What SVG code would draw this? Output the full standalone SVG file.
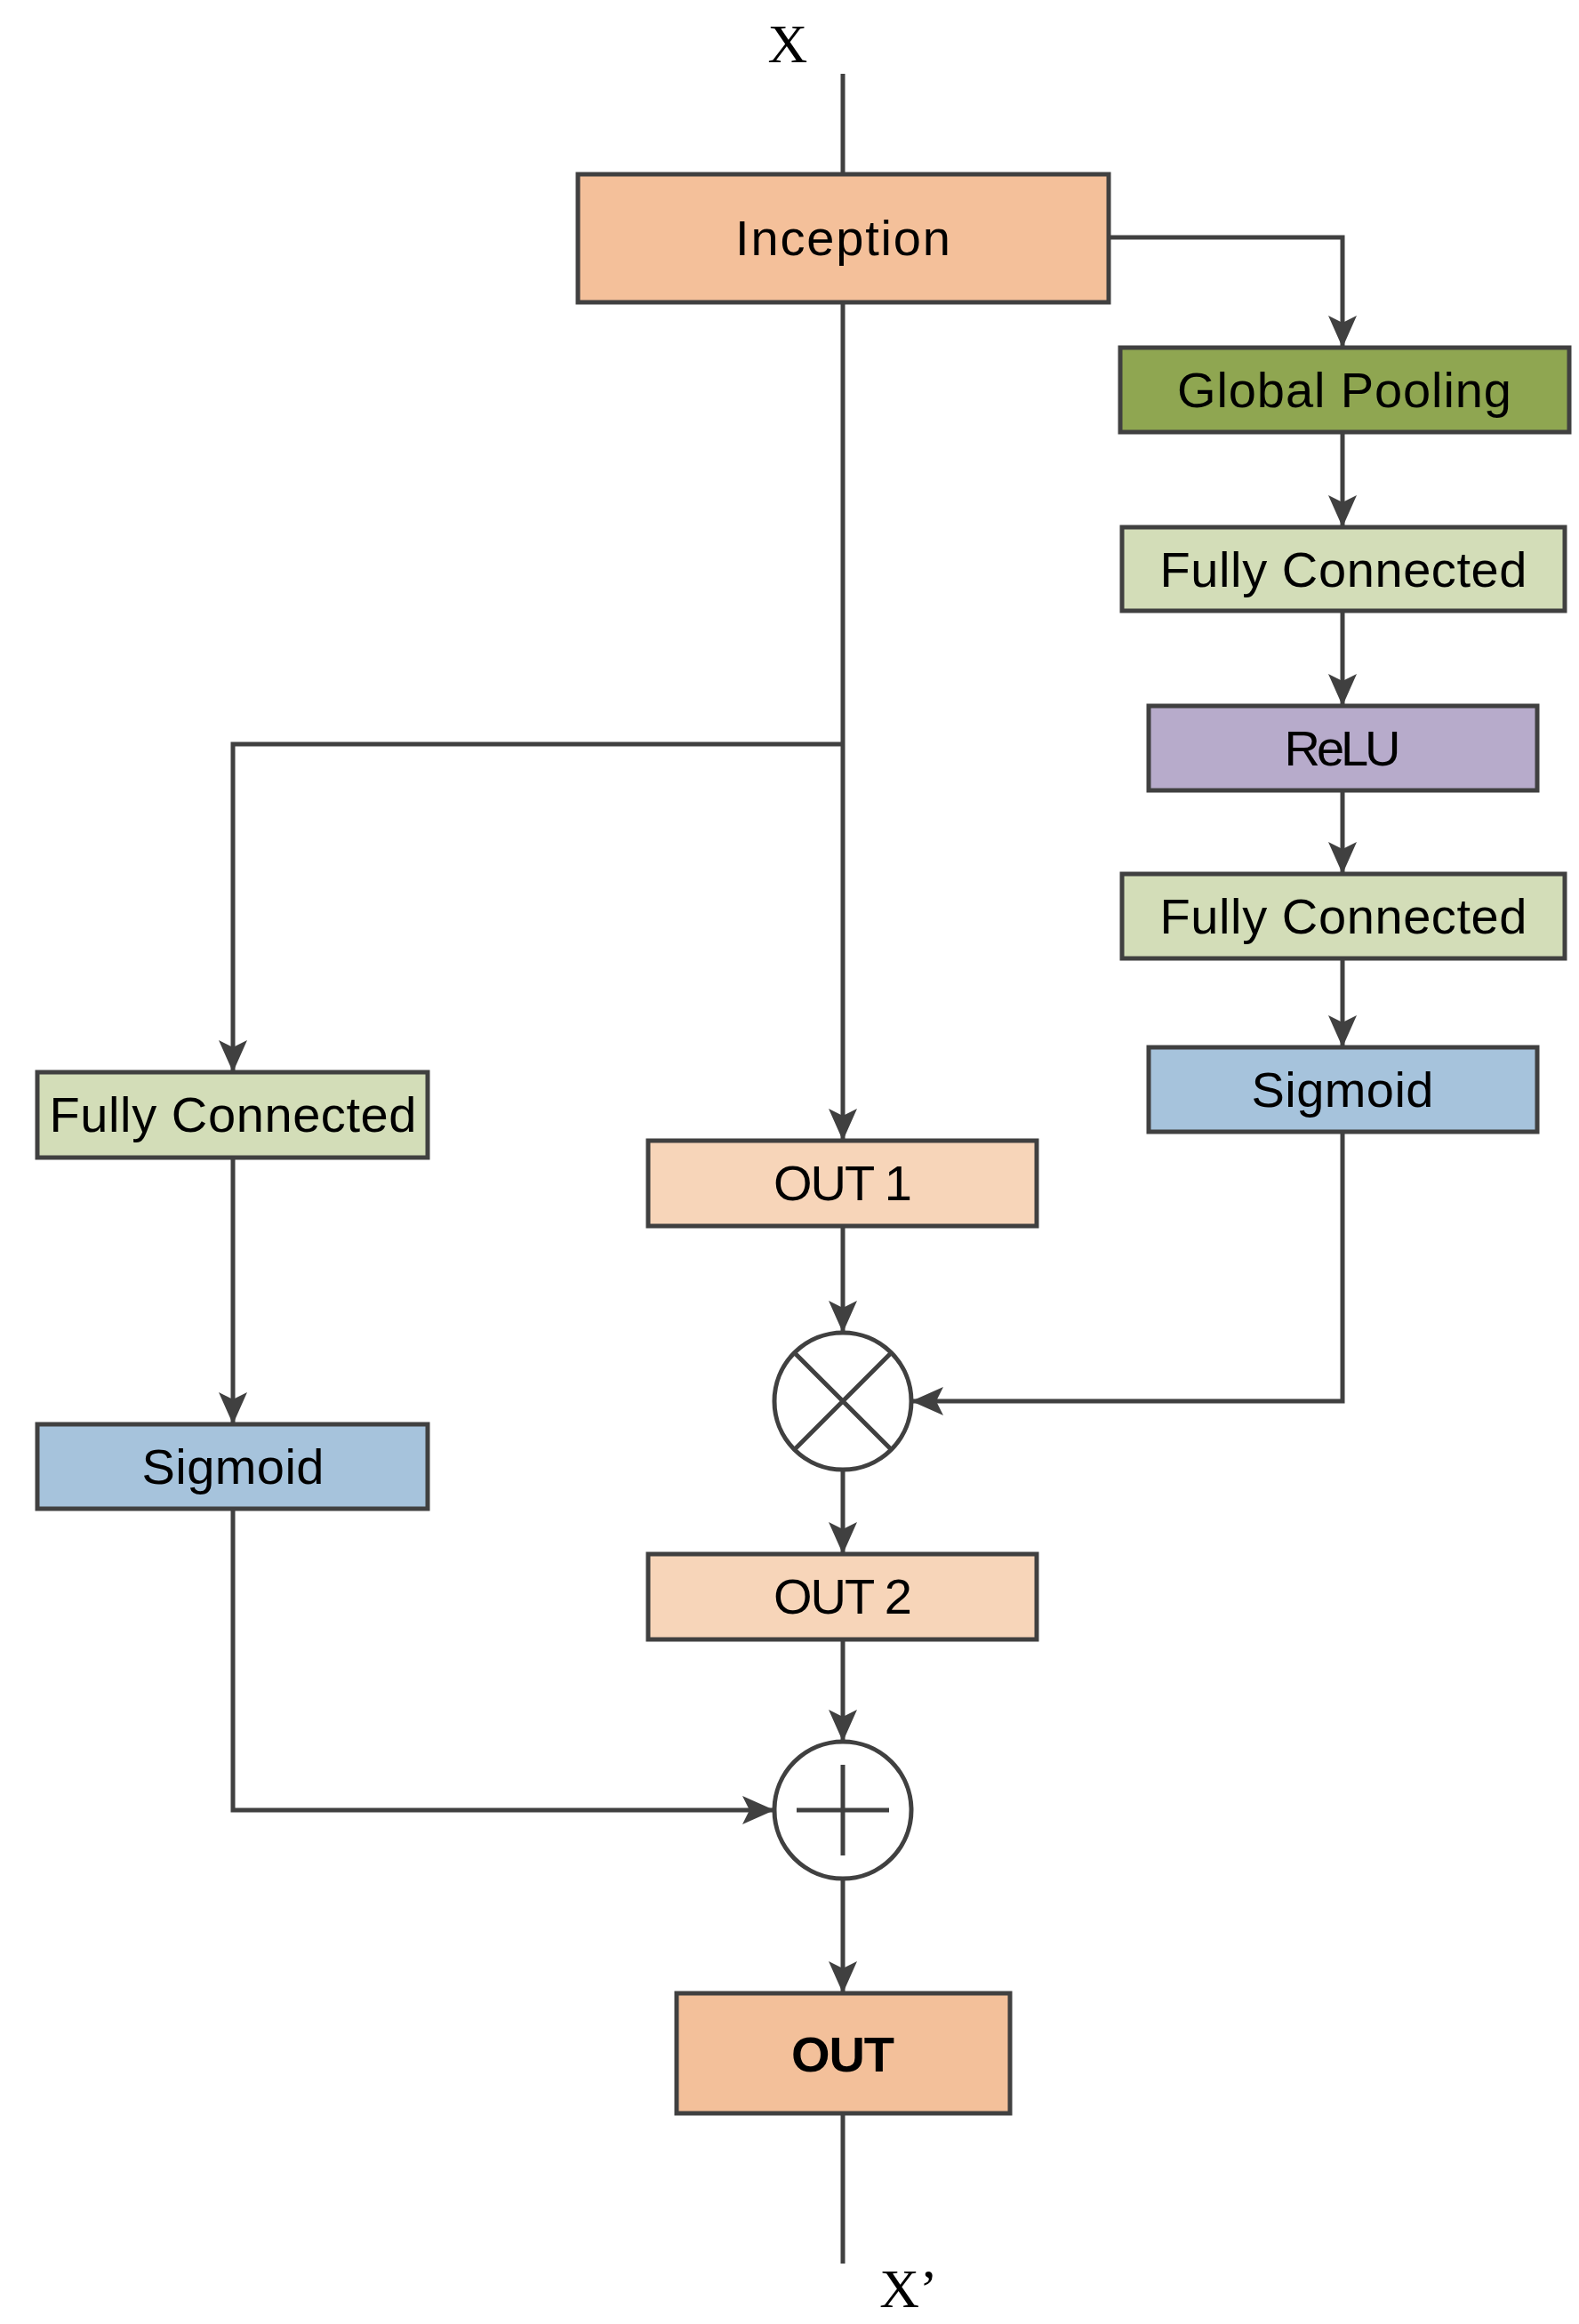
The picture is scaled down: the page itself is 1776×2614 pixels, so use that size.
<svg xmlns="http://www.w3.org/2000/svg" width="1776" height="2614" viewBox="0 0 1776 2614">
<style>
.b{stroke:#404040;stroke-width:5}
.t{font-family:"Liberation Sans",Arial,sans-serif;font-size:56px;text-anchor:middle;fill:#000}
.c{fill:none;stroke:#404040;stroke-width:5}
.x{font-family:"Liberation Serif","Times New Roman",serif;font-size:62px;fill:#000}
</style>
<defs>
<marker id="a" markerUnits="userSpaceOnUse" markerWidth="40" markerHeight="40" viewBox="0 0 40 40" refX="38" refY="20" orient="auto">
<path d="M2,4 L38,20 L2,36 L10,20 Z" fill="#404040"/>
</marker>
</defs>
<rect width="1776" height="2614" fill="#fff"/>
<text class="x" x="886" y="70" text-anchor="middle">X</text>
<text class="x" x="1022" y="2595" text-anchor="middle">X’</text>
<g id="connectors" class="c">
<line x1="948" y1="83" x2="948" y2="196"/>
<polyline points="1247,267 1510,267 1510,391" marker-end="url(#a)"/>
<line x1="1510" y1="486" x2="1510" y2="593" marker-end="url(#a)"/>
<line x1="1510" y1="687" x2="1510" y2="794" marker-end="url(#a)"/>
<line x1="1510" y1="889" x2="1510" y2="983" marker-end="url(#a)"/>
<line x1="1510" y1="1078" x2="1510" y2="1178" marker-end="url(#a)"/>
<line x1="948" y1="340" x2="948" y2="1283" marker-end="url(#a)"/>
<polyline points="948,837 262,837 262,1206" marker-end="url(#a)"/>
<line x1="262" y1="1302" x2="262" y2="1602" marker-end="url(#a)"/>
<line x1="948" y1="1379" x2="948" y2="1499" marker-end="url(#a)"/>
<polyline points="1510,1273 1510,1576 1025,1576" marker-end="url(#a)"/>
<line x1="948" y1="1653" x2="948" y2="1748" marker-end="url(#a)"/>
<line x1="948" y1="1844" x2="948" y2="1959" marker-end="url(#a)"/>
<polyline points="262,1697 262,2036 871,2036" marker-end="url(#a)"/>
<line x1="948" y1="2113" x2="948" y2="2242" marker-end="url(#a)"/>
<line x1="948" y1="2377" x2="948" y2="2546"/>
</g>
<g id="inception"><rect class="b" x="650" y="196" width="597" height="144" fill="#F4C09A"/><text class="t" x="948" y="287" textLength="242">Inception</text></g>
<g id="gpool"><rect class="b" x="1260" y="391" width="505" height="95" fill="#8FA651"/><text class="t" x="1512" y="458" textLength="376">Global Pooling</text></g>
<g id="fc1"><rect class="b" x="1262" y="593" width="498" height="94" fill="#D3DDB8"/><text class="t" x="1511" y="660" textLength="413">Fully Connected</text></g>
<g id="relu"><rect class="b" x="1292" y="794" width="437" height="95" fill="#B7ABCB"/><text class="t" x="1510" y="861" textLength="131">ReLU</text></g>
<g id="fc2"><rect class="b" x="1262" y="983" width="498" height="95" fill="#D3DDB8"/><text class="t" x="1511" y="1050" textLength="413">Fully Connected</text></g>
<g id="sigR"><rect class="b" x="1292" y="1178" width="437" height="95" fill="#A6C3DC"/><text class="t" x="1510" y="1245" textLength="205">Sigmoid</text></g>
<g id="fcL"><rect class="b" x="42" y="1206" width="439" height="96" fill="#D3DDB8"/><text class="t" x="262" y="1273" textLength="413">Fully Connected</text></g>
<g id="sigL"><rect class="b" x="42" y="1602" width="439" height="95" fill="#A6C3DC"/><text class="t" x="262" y="1669" textLength="205">Sigmoid</text></g>
<g id="out1"><rect class="b" x="729" y="1283" width="437" height="96" fill="#F7D5B9"/><text class="t" x="948" y="1350" textLength="156">OUT 1</text></g>
<g id="mul"><circle class="b" cx="948" cy="1576" r="77" fill="#fff"/><path class="c" d="M894,1522 L1002,1630 M1002,1522 L894,1630"/></g>
<g id="out2"><rect class="b" x="729" y="1748" width="437" height="96" fill="#F7D5B9"/><text class="t" x="948" y="1815" textLength="156">OUT 2</text></g>
<g id="add"><circle class="b" cx="948" cy="2036" r="77" fill="#fff"/><path class="c" d="M896,2036 L1000,2036 M948,1985 L948,2087"/></g>
<g id="out"><rect class="b" x="761" y="2242" width="375" height="135" fill="#F3C09A"/><text class="t" x="948" y="2330" font-weight="bold" textLength="116">OUT</text></g>
</svg>
